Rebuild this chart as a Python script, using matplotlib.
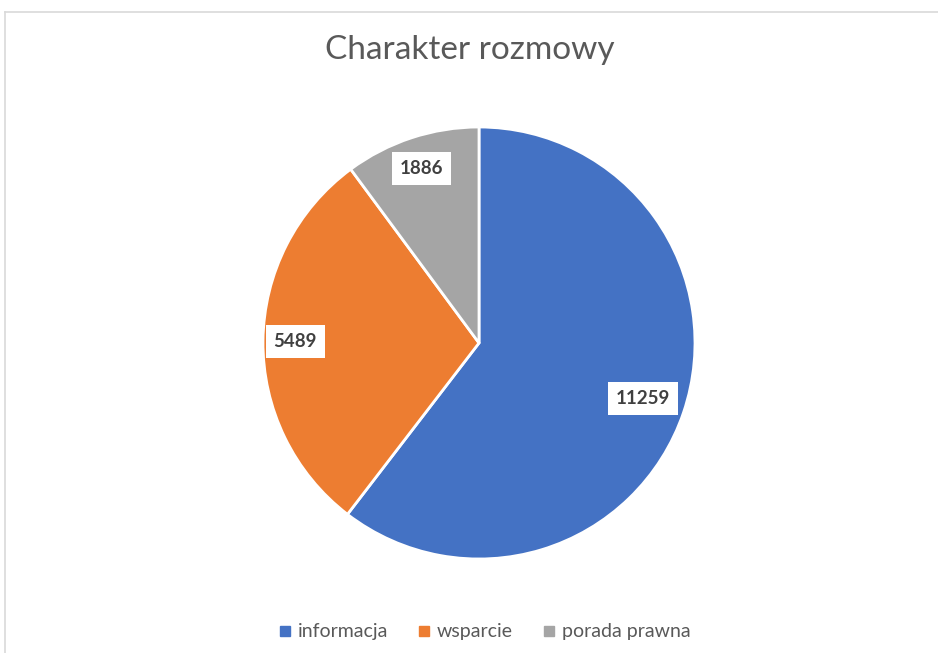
import matplotlib
matplotlib.use("Agg")
import matplotlib.pyplot as plt
from matplotlib.lines import Line2D
import numpy as np

categories = ["informacja", "wsparcie", "porada prawna"]
values = [11259, 5489, 1886]
colors = ["#4472C4", "#ED7D31", "#A5A5A5"]
title = "Charakter rozmowy"
label_dist = [0.80, 0.85, 0.85]

plt.rcParams['font.family'] = ['Lato', 'DejaVu Sans']

fig = plt.figure(figsize=(9.38, 6.53), dpi=100)
W, H = 938, 653
# border lines (chart area frame)
fig.add_artist(Line2D([4.5 / W, 4.5 / W], [0, 1 - 11.5 / H], transform=fig.transFigure,
                      color="#D9D9D9", lw=1.2))
fig.add_artist(Line2D([4.5 / W, 1], [1 - 11.5 / H, 1 - 11.5 / H], transform=fig.transFigure,
                      color="#D9D9D9", lw=1.2))

cx, cy, r = 479, 343, 216
ax = fig.add_axes([(cx - r) / W, (H - cy - r) / H, 2 * r / W, 2 * r / H])
wedges, _ = ax.pie(values, colors=colors, startangle=90, counterclock=False,
                   wedgeprops=dict(edgecolor="white", linewidth=2))
ax.set_xlim(-1, 1)
ax.set_ylim(-1, 1)
ax.set_aspect("equal")
ax.axis("off")

total = sum(values)
start = 90.0
for v, d in zip(values, label_dist):
    span = 360.0 * v / total
    mid = np.deg2rad(start - span / 2)
    start -= span
    ax.text(d * np.cos(mid), d * np.sin(mid), str(v), ha="center", va="center",
            fontsize=13.5, fontweight="bold", color="#404040",
            bbox=dict(boxstyle="square,pad=0.42", fc="white", ec="none"))

fig.text(0.5 + 0.5 / W, 1 - 50 / H, title, ha="center", va="center",
         fontsize=24, color="#595959")

handles = [Line2D([], [], marker="s", linestyle="none", markersize=7,
                  markerfacecolor=c, markeredgecolor=c) for c in colors]
fig.legend(handles, categories, loc="center", bbox_to_anchor=(484 / W, 1 - 632 / H),
           ncol=3, frameon=False, fontsize=14, labelcolor="#595959",
           handletextpad=0.25, columnspacing=1.45, handlelength=0.8)

fig.savefig("out.png", dpi=100, facecolor="white")
